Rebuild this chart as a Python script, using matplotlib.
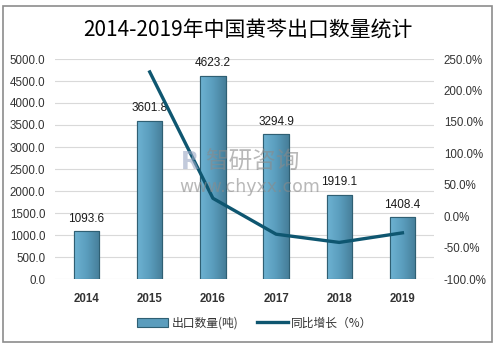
import matplotlib as mpl

mpl.use('Agg')

import matplotlib.pyplot as plt
import numpy as np
from matplotlib.patches import Rectangle
from matplotlib.lines import Line2D

plt.rcParams['font.family'] = ['Liberation Sans', 'Noto Sans CJK SC', 'DejaVu Sans']

years = ['2014', '2015', '2016', '2017', '2018', '2019']
export_tons = [1093.6, 3601.8, 4623.2, 3294.9, 1919.1, 1408.4]
growth_pct = [None, 229.4, 28.4, -28.7, -41.8, -26.6]

left_ticks = np.arange(0, 5001, 500)
right_ticks = np.arange(-100, 251, 50)

bar_color = '#5b9dbd'
edge_color = '#2f5f73'
line_color = '#0e5670'
text_color = '#333333'


def main():
    fig = plt.figure(figsize=(4.96, 3.47), dpi=100)
    fig.patch.set_facecolor('white')

    # outer frame
    fig.patches.append(Rectangle((3 / 496, 1 - 342 / 347), 489 / 496, 336 / 347,
                                 transform=fig.transFigure, fill=False,
                                 edgecolor='#8c8c8c', linewidth=1.2))

    ax = fig.add_axes([55 / 496, 1 - 279 / 347, 379 / 496, 220 / 347])
    x = np.arange(len(years))
    bars = ax.bar(x, export_tons, width=0.4, color=bar_color,
                  edgecolor=edge_color, linewidth=0.8, zorder=2)

    # horizontal gradient inside each bar
    grad = np.linspace(0, 1, 64).reshape(1, -1)
    cmap = mpl.colors.LinearSegmentedColormap.from_list(
        'bar', ['#6db2d2', '#5a9dbd', '#467e99'])
    for b in bars:
        x0, w, h = b.get_x(), b.get_width(), b.get_height()
        im = ax.imshow(grad, extent=[x0, x0 + w, 0, h], cmap=cmap,
                       aspect='auto', zorder=2.1)
        im.set_clip_path(b)
        ax.add_patch(Rectangle((x0, 0), w, h, fill=False,
                               edgecolor=edge_color, linewidth=0.8, zorder=2.2))

    for xi, v in zip(x, export_tons):
        ax.text(xi, v + 140, f'{v:.1f}', ha='center', va='bottom',
                fontsize=8.5, color='#1a1a1a', zorder=5)

    ax.set_xlim(-0.5, len(years) - 0.5)
    ax.set_ylim(0, 5000)
    ax.set_yticks(left_ticks)
    ax.set_yticklabels([f'{t:.1f}' for t in left_ticks])
    ax.set_xticks(x)
    ax.set_xticklabels(years, fontweight='bold')
    ax.tick_params(axis='both', length=0, labelsize=8.3, colors=text_color)
    ax.tick_params(axis='x', pad=10)
    ax.tick_params(axis='y', pad=7)
    ax.grid(axis='y', color='#d9d9d9', linewidth=0.8, zorder=0)
    ax.set_axisbelow(True)
    for s in ax.spines.values():
        s.set_visible(False)

    ax2 = ax.twinx()
    gx = [xi for xi, g in zip(x, growth_pct) if g is not None]
    gy = [g for g in growth_pct if g is not None]
    ax2.plot(gx, gy, color=line_color, linewidth=2.4, zorder=4)
    ax2.set_ylim(-100, 250)
    ax2.set_yticks(right_ticks)
    ax2.set_yticklabels([f'{t:.1f}%' for t in right_ticks])
    ax2.tick_params(axis='y', length=0, labelsize=8.3, colors=text_color, pad=7)
    for s in ax2.spines.values():
        s.set_visible(False)

    # watermark
    fig.text(205 / 496, 1 - 162 / 347, '智研咨询', fontsize=17,
             color='#8a8a8a', alpha=0.6, va='center', ha='left',
             family=['Noto Sans CJK SC'])
    fig.text(179 / 496, 1 - 187 / 347, 'www.chyxx.com', fontsize=12.5,
             color='#8a8a8a', alpha=0.6, va='center', ha='left',
             family=['DejaVu Sans'])
    fig.text(181 / 496, 1 - 162 / 347, 'R', fontsize=17, color='#9aa8c4',
             alpha=0.6, va='center', ha='left', fontweight='bold',
             family=['DejaVu Sans'])

    fig.text(0.5, 1 - 30 / 347, '2014-2019年中国黄芩出口数量统计',
             ha='center', va='center', fontsize=15, color='black',
             fontweight='medium', family=['Noto Sans CJK SC'])

    handles = [Rectangle((0, 0), 1, 1, facecolor=bar_color, edgecolor=edge_color,
                         linewidth=0.8),
               Line2D([0], [0], color=line_color, linewidth=2.4)]
    fig.legend(handles, ['出口数量(吨)', '同比增长（%）'], loc='center',
               bbox_to_anchor=(255 / 496, 1 - 323 / 347), ncol=2, frameon=False,
               prop={'family': ['Noto Sans CJK SC'], 'size': 8.5},
               handlelength=2.6, handleheight=0.7, handletextpad=0.3,
               columnspacing=1.6, labelcolor=text_color)

    fig.savefig('out.png', dpi=100, facecolor='white')


if __name__ == '__main__':
    plt.close('all')
    main()
